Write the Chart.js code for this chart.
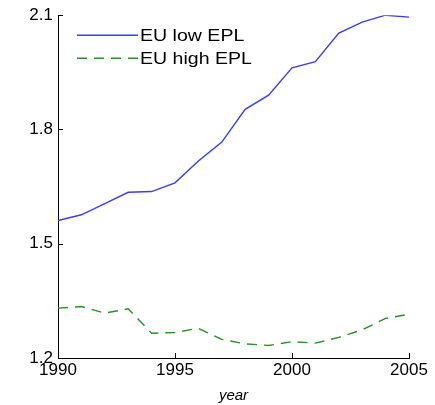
<!DOCTYPE html>
<html>
<head>
<meta charset="utf-8">
<script src="https://cdn.jsdelivr.net/npm/chart.js@4/dist/chart.umd.min.js"></script>
<style>
  body { margin: 0; background: #fff; }
  #wrap { width: 435px; height: 405px; }
</style>
</head>
<body>
<div id="wrap"><canvas id="chart"></canvas></div>
<script>
var years = [1990,1991,1992,1993,1994,1995,1996,1997,1998,1999,2000,2001,2002,2003,2004,2005];
var lowEPL  = [1.561,1.576,1.605,1.635,1.637,1.660,1.717,1.767,1.853,1.890,1.962,1.978,2.053,2.082,2.100,2.095];
var highEPL = [1.331,1.335,1.318,1.329,1.265,1.267,1.278,1.249,1.237,1.233,1.243,1.239,1.254,1.274,1.304,1.315];
var xTicks = [1990,1995,2000,2005];
var yTicks = [1.2,1.5,1.8,2.1];
var seriesNames = ['EU low EPL','EU high EPL'];

var FONT = "'Liberation Sans', Arial, sans-serif";

function pts(vals) {
    var out = [];
    for (var i = 0; i < years.length; i++) out.push({x: years[i], y: vals[i]});
    return out;
}

// legend drawn inside the plot, top left
var insideLegend = {
    id: 'insideLegend',
    afterDatasetsDraw: function(chart) {
        var ctx = chart.ctx, a = chart.chartArea;
        ctx.save();
        chart.data.datasets.forEach(function(ds, i) {
            var y = a.top + 20 + i * 23;
            ctx.strokeStyle = ds.borderColor;
            ctx.lineWidth = ds.borderWidth;
            ctx.setLineDash(ds.borderDash || []);
            ctx.beginPath();
            ctx.moveTo(a.left + 19, y);
            ctx.lineTo(a.left + 80, y);
            ctx.stroke();
            ctx.setLineDash([]);
            ctx.fillStyle = '#000';
            ctx.font = '17px ' + FONT;
            ctx.textBaseline = 'middle';
            // text in the reference is a little wide, stretch it
            ctx.save();
            ctx.translate(a.left + 82, y + 1);
            ctx.scale(1.15, 1);
            ctx.fillText(ds.label, 0, 0);
            ctx.restore();
        });
        ctx.restore();
    }
};

// short inward tick marks
var inTicks = {
    id: 'inTicks',
    afterDraw: function(chart) {
        var ctx = chart.ctx, a = chart.chartArea;
        var xs = chart.scales.x, ys = chart.scales.y;
        ctx.save();
        ctx.strokeStyle = '#000';
        ctx.lineWidth = 1;
        xTicks.forEach(function(v) {
            var p = Math.round(xs.getPixelForValue(v)) + 0.5;
            ctx.beginPath(); ctx.moveTo(p, a.bottom); ctx.lineTo(p, a.bottom - 5); ctx.stroke();
        });
        yTicks.forEach(function(v) {
            var p = Math.round(ys.getPixelForValue(v)) + 0.5;
            ctx.beginPath(); ctx.moveTo(a.left, p); ctx.lineTo(a.left + 5, p); ctx.stroke();
        });
        ctx.restore();
    }
};

window.onload = function() {
    var ctx = document.getElementById('chart').getContext('2d');
    var config = {
        type: 'line',
        data: {
            datasets: [{
                label: seriesNames[0],
                data: pts(lowEPL),
                borderColor: '#3b3bff',
                borderWidth: 1.4,
                pointRadius: 0,
                tension: 0
            }, {
                label: seriesNames[1],
                data: pts(highEPL),
                borderColor: '#2b8f2b',
                borderWidth: 1.4,
                borderDash: [10, 7],
                pointRadius: 0,
                tension: 0
            }]
        },
        options: {
            responsive: true,
            maintainAspectRatio: false,
            animation: false,
            layout: { padding: { left: 0, right: 26, top: 15, bottom: 0 } },
            plugins: { legend: { display: false }, tooltip: { enabled: false } },
            scales: {
                x: {
                    type: 'linear',
                    min: 1990, max: 2005,
                    afterBuildTicks: function(s) { s.ticks = xTicks.map(function(v) { return {value: v}; }); },
                    afterFit: function(s) { s.height = 47; },
                    grid: { display: false, drawTicks: false },
                    border: { display: true, color: '#000', width: 1 },
                    ticks: {
                        color: '#000', padding: 2, maxRotation: 0,
                        font: { family: FONT, size: 17 },
                        callback: function(v) { return String(v); }
                    },
                    title: {
                        display: true, text: 'year', color: '#000',
                        padding: { top: 0, bottom: 0 },
                        font: { family: FONT, size: 15, style: 'italic' }
                    }
                },
                y: {
                    min: 1.2, max: 2.1,
                    afterBuildTicks: function(s) { s.ticks = yTicks.map(function(v) { return {value: v}; }); },
                    afterFit: function(s) { s.width = 58; },
                    grid: { display: false, drawTicks: false },
                    border: { display: true, color: '#000', width: 1 },
                    ticks: {
                        color: '#000', padding: 5,
                        font: { family: FONT, size: 17 },
                        callback: function(v) { return v.toFixed(1); }
                    }
                }
            }
        },
        plugins: [insideLegend, inTicks]
    };
    window.myLine = new Chart(ctx, config);
};
</script>
</body>
</html>
